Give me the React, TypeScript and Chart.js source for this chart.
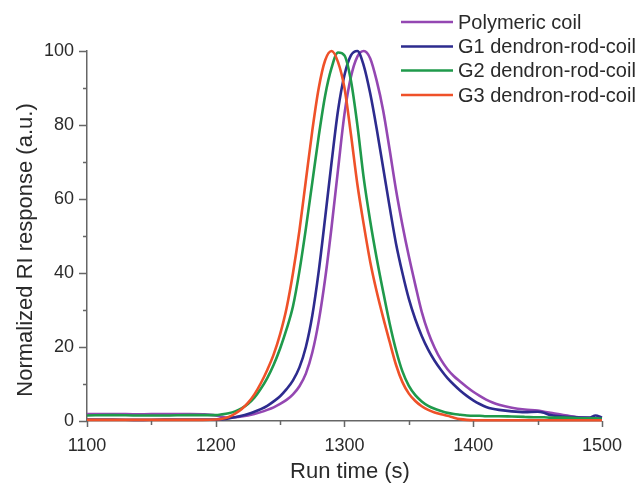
import React, { useEffect, useRef } from "react";
import { Chart, registerables } from "chart.js";

Chart.register(...registerables);

const runTime = [
  1100, 1120, 1140, 1160, 1180, 1190,
  1200, 1205, 1210, 1215, 1220, 1225, 1230, 1235, 1240, 1245,
  1250, 1255, 1260, 1265, 1270, 1275, 1280, 1285, 1290, 1295,
  1300, 1305, 1310, 1315, 1320, 1325, 1330, 1335, 1340, 1345,
  1350, 1355, 1360, 1365, 1370, 1375, 1380, 1385, 1390, 1395,
  1400, 1405, 1410, 1415, 1420,
  1430, 1440, 1450, 1455, 1460, 1470, 1480, 1490, 1495, 1500,
];

const polymericCoil = [
  1.9, 1.9, 1.8, 1.9, 1.9, 1.8,
  1.5, 1.1, 0.9, 1.0, 1.2, 1.5, 1.9, 2.4, 3.0, 3.7,
  4.6, 5.7, 7.2, 9.4, 12.8, 18.5, 27, 38.5, 52.5, 68,
  83, 93, 98.5, 100, 98, 92, 84, 73.5, 62.5, 53,
  44.5, 36.8, 29.5, 24, 19.8, 16.5, 14.0, 12.1, 10.6, 9.2,
  7.9, 6.8, 5.8, 5.0, 4.4,
  3.6, 3.1, 2.8, 2.5, 2.2, 1.6, 1.1, 0.8, 0.7, 0.6,
];

const g1RodCoil = [
  0.4, 0.4, 0.3, 0.4, 0.4, 0.4,
  0.4, 0.5, 0.7, 1.0, 1.4, 1.9, 2.5, 3.2, 4.1, 5.3,
  6.7, 8.6, 11, 14.5, 20, 28.5, 40.5, 55, 70, 84,
  93.5, 98.8, 100, 96, 88.5, 79, 68.5, 58, 48, 40,
  33, 27.5, 23, 19.3, 16.3, 13.8, 11.6, 9.8, 8.2, 6.8,
  5.6, 4.6, 3.8, 3.3, 3.0,
  2.6, 2.4, 2.5, 2.2, 1.6, 1.2, 1.0, 0.9, 1.5, 0.9,
];

const g2RodCoil = [
  1.5, 1.6, 1.5, 1.5, 1.6, 1.6,
  1.6, 1.8, 2.1, 2.6, 3.4, 4.6, 6.3, 8.7, 11.6, 15.2,
  19.6, 24.8, 31, 40.5, 52, 64.5, 77, 88, 95.5, 99.6,
  98.8, 92, 80, 65.5, 54, 44, 35, 26.5, 19.2, 13.4,
  9.5, 7.0, 5.3, 4.1, 3.3, 2.7, 2.2, 1.9, 1.7, 1.5,
  1.4, 1.4, 1.3, 1.3, 1.3,
  1.2, 1.1, 1.0, 1.0, 0.9, 0.9, 0.8, 0.7, 0.7, 0.6,
];

const g3RodCoil = [
  0.3, 0.3, 0.3, 0.3, 0.3, 0.3,
  0.4, 0.6, 1.1, 2.0, 3.2, 4.9, 7.2, 10.2, 13.8, 18,
  23.5, 30.5, 40, 51.5, 65, 78.5, 90, 97.5, 100, 97,
  90, 77.5, 64, 53, 43, 35, 28, 21.5, 15.2, 10.5,
  7.4, 5.4, 4.0, 3.0, 2.3, 1.8, 1.4, 0.9, 0.5, 0.3,
  0.2, 0.2, 0.2, 0.2, 0.2,
  0.2, 0.2, 0.2, 0.2, 0.2, 0.2, 0.2, 0.2, 0.2, 0.2,
];

const seriesLabels = [
  "Polymeric coil",
  "G1 dendron-rod-coil",
  "G2 dendron-rod-coil",
  "G3 dendron-rod-coil",
];
const seriesColors = ["#9447b2", "#2d2b8e", "#1f9a4b", "#ef5129"];

const xMin = 1100;
const xMax = 1500;
const xMajorStep = 100;
const xMinorStep = 50;
const yMin = 0;
const yMax = 100;
const yMajorStep = 20;
const yMinorStep = 10;

const xTitle = "Run time (s)";
const yTitle = "Normalized RI response (a.u.)";

const FONT = "'Liberation Sans', Arial, Helvetica, sans-serif";
const TEXT = "#2a2a2a";
const AXIS = "#666666";

const decorPlugin = {
  id: "decor",
  afterDraw(chart: any) {
    const ctx = chart.ctx;
    const xs = chart.scales.x;
    const ys = chart.scales.y;
    ctx.save();
    ctx.strokeStyle = AXIS;
    ctx.lineWidth = 1.5;
    ctx.beginPath();
    for (let v = xMin; v <= xMax; v += xMinorStep) {
      const px = Math.round(xs.getPixelForValue(v)) + 0.5;
      const len = (v - xMin) % xMajorStep === 0 ? 6 : 4;
      ctx.moveTo(px, ys.bottom);
      ctx.lineTo(px, ys.bottom + len);
    }
    for (let v = yMin; v <= yMax; v += yMinorStep) {
      const py = Math.round(ys.getPixelForValue(v)) + 0.5;
      const len = (v - yMin) % yMajorStep === 0 ? 8 : 4;
      ctx.moveTo(xs.left, py);
      ctx.lineTo(xs.left - len, py);
    }
    ctx.stroke();

    ctx.fillStyle = TEXT;
    ctx.font = `22px ${FONT}`;
    ctx.textAlign = "center";
    ctx.textBaseline = "middle";
    ctx.fillText(xTitle, 350, 472);
    ctx.save();
    ctx.translate(26, 250);
    ctx.rotate(-Math.PI / 2);
    ctx.fillText(yTitle, 0, 0);
    ctx.restore();

    const rows = [22, 46.5, 70.5, 95];
    ctx.font = `20px ${FONT}`;
    ctx.textAlign = "left";
    ctx.textBaseline = "middle";
    seriesLabels.forEach((lab, i) => {
      ctx.strokeStyle = seriesColors[i];
      ctx.lineWidth = 2.5;
      ctx.beginPath();
      ctx.moveTo(401, rows[i]);
      ctx.lineTo(453, rows[i]);
      ctx.stroke();
      ctx.fillStyle = TEXT;
      ctx.fillText(lab, 458, rows[i] + 1);
    });
    ctx.restore();
  },
};

export default function App() {
  const ref = useRef<HTMLCanvasElement | null>(null);

  useEffect(() => {
    if (!ref.current) return;
    const series = [polymericCoil, g1RodCoil, g2RodCoil, g3RodCoil];
    const orders = [4, 3, 2, 1];
    const chart = new Chart(ref.current, {
      type: "line",
      data: {
        datasets: series.map((vals, i) => ({
          label: seriesLabels[i],
          data: runTime.map((t, k) => ({ x: t, y: vals[k] })),
          borderColor: seriesColors[i],
          backgroundColor: seriesColors[i],
          borderWidth: 2.6,
          pointRadius: 0,
          cubicInterpolationMode: "monotone" as const,
          fill: false,
          clip: false as any,
          order: orders[i],
        })),
      },
      options: {
        responsive: false,
        animation: false,
        events: [],
        layout: { padding: { top: 51, right: 31, left: 0, bottom: 0 } },
        plugins: {
          legend: { display: false },
          tooltip: { enabled: false },
          title: { display: false },
        },
        scales: {
          x: {
            type: "linear",
            min: xMin,
            max: xMax,
            afterFit: (s: any) => {
              s.height = 67;
            },
            grid: { display: true, drawOnChartArea: false, drawTicks: false },
            border: { display: true, color: AXIS, width: 1.5 },
            ticks: {
              stepSize: xMajorStep,
              padding: 14,
              color: TEXT,
              font: { family: FONT, size: 18 },
              maxRotation: 0,
              callback: (v: any) => String(v),
            },
          },
          y: {
            type: "linear",
            min: yMin,
            max: yMax,
            afterFit: (s: any) => {
              s.width = 87;
            },
            grid: { display: true, drawOnChartArea: false, drawTicks: false },
            border: { display: true, color: AXIS, width: 1.5 },
            ticks: {
              stepSize: yMajorStep,
              padding: 13,
              color: TEXT,
              font: { family: FONT, size: 18 },
              callback: (v: any) => String(v),
            },
          },
        },
      },
      plugins: [decorPlugin],
    });
    return () => chart.destroy();
  }, []);

  return (
    <div style={{ position: "absolute", left: 0, top: 0, width: 636, height: 488, background: "#fff" }}>
      <canvas ref={ref} width={636} height={488} style={{ width: 636, height: 488, display: "block" }} />
    </div>
  );
}
